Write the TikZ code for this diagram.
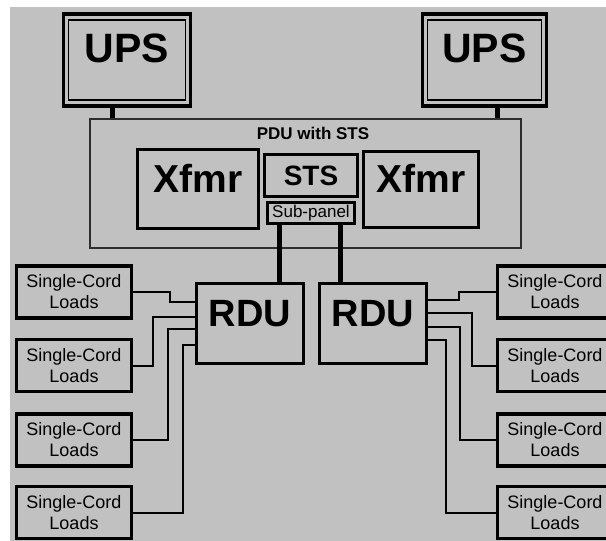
\documentclass[tikz,border=0pt]{standalone}
\usepackage{fontspec}
\setmainfont{Liberation Sans}
\usepackage{tikz}
\usetikzlibrary{positioning,calc}
\definecolor{panelgray}{RGB}{193,193,193}
\definecolor{framegray}{RGB}{45,45,45}
\newcommand{\fsz}[1]{\fontsize{#1}{#1}\selectfont}

\begin{document}
\begin{tikzpicture}[x=1pt,y=-1pt,
  box/.style={draw,line width=3.2pt,inner sep=0pt,minimum width=#1},
  upsbox/.style={draw,line width=3.6pt,inner sep=0pt,minimum height=92pt,
    font=\fsz{41}\bfseries,text depth=24pt,
    path picture={\draw[line width=1.5pt]
      ([xshift=5pt,yshift=-6pt]path picture bounding box.north west) rectangle
      ([xshift=-5pt,yshift=6pt]path picture bounding box.south east);}},
  loadbox/.style={draw,line width=3.4pt,inner sep=0pt,minimum width=115pt,
    minimum height=52pt,align=center,font=\fontsize{18}{21}\selectfont},
  feed/.style={line width=5pt},
  cord/.style={line width=2pt}]
\useasboundingbox (0,0) rectangle (606,541);
\fill[panelgray] (10,7) rectangle (606,541);

% sources
\node[upsbox,minimum width=127pt] (ups1) at (127,60) {UPS};
\node[upsbox,minimum width=124pt] (ups2) at (484.5,60) {UPS};

% PDU with the transformers and the switch
\node[draw=framegray,line width=2pt,minimum width=431pt,minimum height=129pt] (pdu) at (305,183) {};
\node[font=\fsz{17}\bfseries] (pdutitle) at (313,133) {PDU with STS};
\node[box=121pt,minimum height=79pt,font=\fsz{39}\bfseries,text depth=22pt] (xfmr1) at (198,189) {Xfmr};
\node[box=93pt,minimum height=42pt,font=\fsz{28}\bfseries] (sts) at (311,175.5) {STS};
\node[box=87pt,minimum height=21pt,font=\fsz{17}] (subpanel) at (311,213) {Sub-panel};
\node[box=115pt,minimum height=76pt,font=\fsz{39}\bfseries,text depth=22pt] (xfmr2) at (421,189.5) {Xfmr};

\node[box=107pt,minimum height=80pt,font=\fsz{38}\bfseries,text depth=21pt] (rdu1) at (250,323.5) {RDU};
\node[box=107pt,minimum height=80pt,font=\fsz{38}\bfseries,text depth=21pt] (rdu2) at (373,323.5) {RDU};

\draw[feed] ([xshift=-15pt]ups1.south) -- ([xshift=-15pt]ups1.south |- pdu.north);
\draw[feed] ([xshift=12.5pt]ups2.south) -- ([xshift=12.5pt]ups2.south |- pdu.north);
\draw[feed] ([xshift=-32pt]subpanel.south) -- ([xshift=-32pt]subpanel.south |- rdu1.north);
\draw[feed] ([xshift=29pt]subpanel.south) -- ([xshift=29pt]subpanel.south |- rdu2.north);

% loads, left and right
\foreach \yy/\jl/\dl/\jr/\dr [count=\i] in {
292/37/21.5/37/23.5,
365.5/20/6.5/24/10.5,
440/35/-5.5/36/-3.5,
512.5/50/-21.5/50/-16.5}{
  \node[loadbox] (ll\i) at (74,\yy) {Single-Cord\\Loads};
  \node[loadbox] (lr\i) at (555,\yy) {Single-Cord\\Loads};
  \draw[cord] (ll\i.east) -- ++(\jl,0) |- ([yshift=\dl pt]rdu1.west);
  \draw[cord] (lr\i.west) -- ++(-\jr,0) |- ([yshift=\dr pt]rdu2.east);
}
\end{tikzpicture}
\end{document}
